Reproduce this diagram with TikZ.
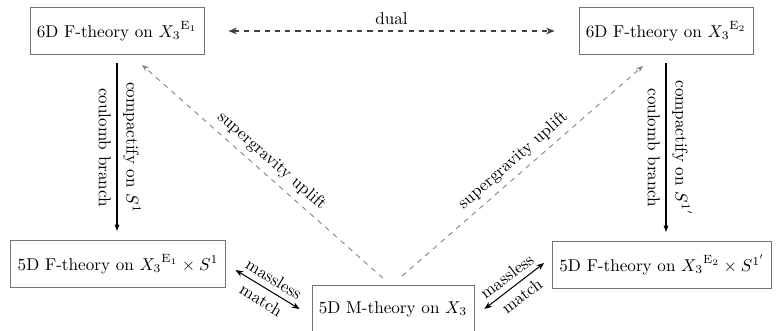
\documentclass[tikz,border=0pt]{standalone}
\usetikzlibrary{arrows.meta,calc}
\begin{document}
\begin{tikzpicture}[x=0.584pt,y=-0.584pt,
  box/.style={draw=black!55, line width=0.5pt, inner xsep=4pt, minimum height=27.4pt},
  dualarrow/.style={dashed, draw=black!75, line width=0.6pt, {Stealth[length=5pt,width=4pt]}-{Stealth[length=5pt,width=4pt]}},
  comparrow/.style={draw=black, line width=0.6pt, -{Latex[length=4pt,width=3pt]}},
  uplift/.style={dashed, draw=black!50, line width=0.5pt, -{Stealth[length=4pt,width=3pt]}},
  matcharrow/.style={draw=black, line width=0.6pt, {Stealth[length=4.5pt,width=3.5pt]}-{Stealth[length=4.5pt,width=3.5pt]}}]
\useasboundingbox (0,0) rectangle (776,330);
\node[box] (A) at (117,31) {6D F-theory on ${X_3}^{\mathrm{E}_1}$};
\node[box] (B) at (666,31) {6D F-theory on ${X_3}^{\mathrm{E}_2}$};
\node[box] (C) at (118,264) {5D F-theory on ${X_3}^{\mathrm{E}_1}\times S^1$};
\node[box] (D) at (393,309) {5D M-theory on $X_3$};
\node[box] (E) at (662,265) {5D F-theory on ${X_3}^{\mathrm{E}_2}\times S^{1'}$};

\draw[dualarrow, shorten <=14pt, shorten >=14pt] (A) -- node[above, black]{dual} (B);
\draw[comparrow, shorten <=5pt, shorten >=5pt] (A.south) -- node[sloped, above]{compactify on $S^1$} node[sloped, below]{coulomb branch} (C.north -| A.south);
\draw[comparrow, shorten <=5pt, shorten >=5pt] (B.south) -- node[sloped, above]{compactify on $S^{1'}$} node[sloped, below]{coulomb branch} (E.north -| B.south);
\draw[uplift] ($(D.north)+(-10,-7)$) -- node[sloped, above, black]{supergravity uplift} ($(A.south)+(25,10)$);
\draw[uplift] ($(D.north)+(9,-9)$) -- node[sloped, above, black]{supergravity uplift} ($(B.south)+(-23,11)$);
\draw[matcharrow] ($(C.east)+(10,6)$) -- node[sloped, above]{massless} node[sloped, below]{match} ($(D.west)+(-12,0)$);
\draw[matcharrow] ($(D.east)+(10,0)$) -- node[sloped, above]{massless} node[sloped, below]{match} ($(E.west)+(-8,-2)$);
\end{tikzpicture}
\end{document}
